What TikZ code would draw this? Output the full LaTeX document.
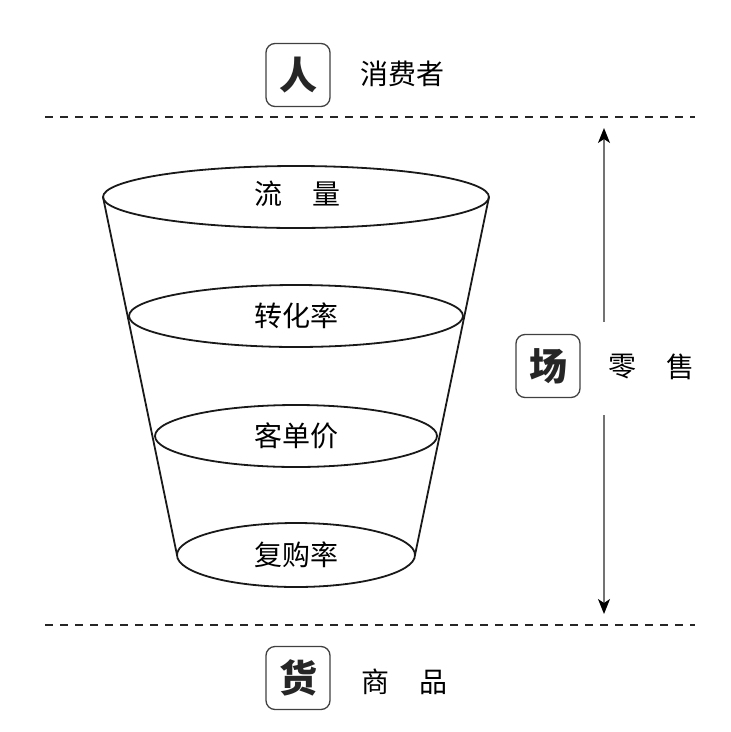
\documentclass[tikz,border=0pt]{standalone}
\usepackage{fontspec}
\newfontfamily\cjk{Noto Sans CJK SC}
\usetikzlibrary{arrows.meta}
\begin{document}
\begin{tikzpicture}[x=1pt,y=-1pt,
  dashline/.style={line width=2.4pt,dash pattern=on 8pt off 7pt,black!85},
  funnel/.style={line width=1.8pt,black!90},
  lbl/.style={font=\cjk\fontsize{28}{30}\selectfont,text=black,inner sep=0pt},
  boxed/.style={draw=black!75,line width=1.3pt,rounded corners=9pt,minimum width=64pt,minimum height=63pt,inner sep=0pt,font=\cjk\fontsize{38}{40}\selectfont\bfseries,text=black!85},
  side/.style={font=\cjk\fontsize{28}{30}\selectfont,text=black,inner sep=0pt},
  arr/.style={line width=1.5pt,black!55,-{Stealth[length=15pt,width=12pt,inset=4pt,black]}}
]
\useasboundingbox (0,0) rectangle (731,732);
% dashed lines
\coordinate (tl) at (45,117);
\coordinate (tr) at (695,117);
\coordinate (bl) at (45,625);
\coordinate (br) at (695,625);
\draw[dashline] (tl) -- (tr);
\draw[dashline] (bl) -- (br);
% boxes
\node[boxed] (ren) at (298,75) {人};
\node[side,anchor=west] (xfz) at (360,74) {消费者};
\node[boxed] (chang) at (548,366) {场};
\node[side] (ling) at (622,367) {零};
\node[side] (shou) at (680,367) {售};
\node[boxed] (huo) at (298,678) {货};
\node[side] (shang) at (375,682) {商};
\node[side] (pin) at (433,682) {品};
% arrow
\coordinate (a1) at (604,322);
\coordinate (a1t) at (604,128);
\coordinate (a2) at (604,415);
\coordinate (a2t) at (604,614);
\draw[arr] (a1) -- (a1t);
\draw[arr] (a2) -- (a2t);
% funnel
\coordinate (e1l) at (103,197);
\coordinate (e1r) at (489,197);
\coordinate (e4l) at (177,555);
\coordinate (e4r) at (415,555);
\draw[funnel] (e1l) -- (e4l);
\draw[funnel] (e1r) -- (e4r);
\draw[funnel] (296,197) ellipse [x radius=193,y radius=31];
\draw[funnel] (296,316) ellipse [x radius=167,y radius=31];
\draw[funnel] (296,436) ellipse [x radius=141,y radius=31];
\draw[funnel] (296,555) ellipse [x radius=119,y radius=32];
\node[lbl] (liu) at (268,194) {流};
\node[lbl] (liang) at (326,194) {量};
\node[lbl] (zhl) at (296,316) {转化率};
\node[lbl] (kdj) at (296,436) {客单价};
\node[lbl] (fgl) at (296,555) {复购率};
\end{tikzpicture}
\end{document}
